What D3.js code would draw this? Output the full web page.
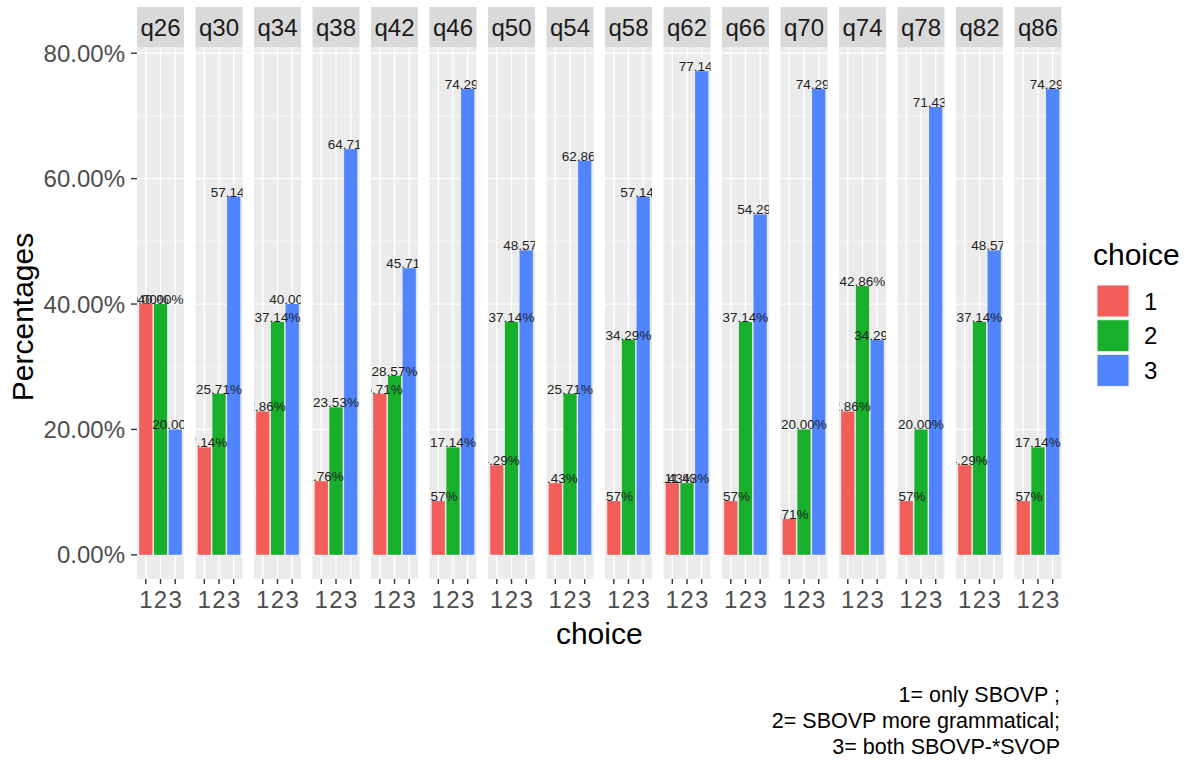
<!DOCTYPE html>
<html>
<head>
<meta charset="utf-8">
<script src="https://cdn.jsdelivr.net/npm/d3@7"></script>
<style>
  body { margin: 0; background: #fff; }
  svg { display: block; font-family: "Liberation Sans", Arial, sans-serif; }
</style>
</head>
<body>
<div id="chart"></div>
<script>
// facet panels and the three answer choices
var questions = ["q26", "q30", "q34", "q38", "q42", "q46", "q50", "q54",
                 "q58", "q62", "q66", "q70", "q74", "q78", "q82", "q86"];
var choices = ["1", "2", "3"];

// percentage per question, one array per choice
var choice1 = [40.00, 17.14, 22.86, 11.76, 25.71, 8.57, 14.29, 11.43,
               8.57, 11.43, 8.57, 5.71, 22.86, 8.57, 14.29, 8.57];
var choice2 = [40.00, 25.71, 37.14, 23.53, 28.57, 17.14, 37.14, 25.71,
               34.29, 11.43, 37.14, 20.00, 42.86, 20.00, 37.14, 17.14];
var choice3 = [20.00, 57.14, 40.00, 64.71, 45.71, 74.29, 48.57, 62.86,
               57.14, 77.14, 54.29, 74.29, 34.29, 71.43, 48.57, 74.29];

var yTicks = [0, 20, 40, 60, 80];
var yMinor = [10, 30, 50, 70];
var colors = ["#F25F5B", "#17AF2C", "#5085FF"];
var captionLines = ["1= only SBOVP ;", "2= SBOVP more grammatical;", "3= both SBOVP-*SVOP"];

var series = [choice1, choice2, choice3];
var rows = [];
questions.forEach(function(q, i) {
  choices.forEach(function(c, j) {
    rows.push({q: q, choice: c, value: series[j][i]});
  });
});

var width = 1190, height = 760;
var panelTop = 47, panelBottom = 579, stripTop = 7;

var svg = d3.select("#chart").append("svg")
  .attr("width", width)
  .attr("height", height);

var fx = d3.scaleBand()
  .domain(questions)
  .range([137, 1061.5])
  .paddingInner(0.196)
  .paddingOuter(0);

var pw = fx.bandwidth();

var x = d3.scalePoint()
  .domain(choices)
  .range([0, pw])
  .padding(0.6);
var barW = x.step() * 0.9;

var maxV = d3.max(rows, function(d) { return d.value; });
var y = d3.scaleLinear()
  .domain([-maxV * 0.05, maxV * 1.05])
  .range([panelBottom, panelTop]);

var fmt = d3.format(".2f");

var panels = svg.selectAll(".panel")
  .data(questions)
  .enter().append("g")
  .attr("class", "panel")
  .attr("transform", function(d) { return "translate(" + fx(d) + ",0)"; });

panels.append("clipPath")
  .attr("id", function(d) { return "clip-" + d; })
  .append("rect")
  .attr("x", 0).attr("y", panelTop)
  .attr("width", pw).attr("height", panelBottom - panelTop);

panels.append("rect")
  .attr("x", 0).attr("y", panelTop)
  .attr("width", pw).attr("height", panelBottom - panelTop)
  .attr("fill", "#EBEBEB");

// minor and major grid
panels.selectAll(".minor")
  .data(yMinor).enter().append("line")
  .attr("x1", 0).attr("x2", pw)
  .attr("y1", function(d) { return y(d); })
  .attr("y2", function(d) { return y(d); })
  .attr("stroke", "#fff").attr("stroke-width", 0.6);

panels.selectAll(".major")
  .data(yTicks).enter().append("line")
  .attr("x1", 0).attr("x2", pw)
  .attr("y1", function(d) { return y(d); })
  .attr("y2", function(d) { return y(d); })
  .attr("stroke", "#fff").attr("stroke-width", 1.3);

panels.selectAll(".vgrid")
  .data(choices).enter().append("line")
  .attr("x1", function(d) { return x(d); })
  .attr("x2", function(d) { return x(d); })
  .attr("y1", panelTop).attr("y2", panelBottom)
  .attr("stroke", "#fff").attr("stroke-width", 1.3);

var inner = panels.append("g")
  .attr("clip-path", function(d) { return "url(#clip-" + d + ")"; });

inner.selectAll(".bar")
  .data(function(q) { return rows.filter(function(r) { return r.q === q; }); })
  .enter().append("rect")
  .attr("x", function(d) { return x(d.choice) - barW / 2; })
  .attr("y", function(d) { return y(d.value); })
  .attr("width", barW)
  .attr("height", function(d) { return y(0) - y(d.value); })
  .attr("fill", function(d) { return colors[choices.indexOf(d.choice)]; });

inner.selectAll(".lab")
  .data(function(q) { return rows.filter(function(r) { return r.q === q; }); })
  .enter().append("text")
  .attr("x", function(d) { return x(d.choice); })
  .attr("y", function(d) { return y(d.value); })
  .attr("text-anchor", "middle")
  .attr("font-size", "13.5px")
  .attr("fill", "#222")
  .text(function(d) { return fmt(d.value) + "%"; });

// strips
panels.append("rect")
  .attr("x", 0).attr("y", stripTop)
  .attr("width", pw).attr("height", panelTop - stripTop)
  .attr("fill", "#D9D9D9");
panels.append("text")
  .attr("x", pw / 2).attr("y", 36)
  .attr("text-anchor", "middle")
  .attr("font-size", "24px")
  .attr("fill", "#1A1A1A")
  .text(function(d) { return d; });

// x ticks + labels under each panel
panels.selectAll(".xt")
  .data(choices).enter().append("line")
  .attr("x1", function(d) { return x(d); })
  .attr("x2", function(d) { return x(d); })
  .attr("y1", panelBottom).attr("y2", panelBottom + 5)
  .attr("stroke", "#333").attr("stroke-width", 1.4);
panels.selectAll(".xl")
  .data(choices).enter().append("text")
  .attr("x", function(d) { return x(d); })
  .attr("y", 608)
  .attr("text-anchor", "middle")
  .attr("font-size", "24px")
  .attr("fill", "#4D4D4D")
  .text(function(d) { return d; });

// y axis
var yAxis = svg.append("g");
yAxis.selectAll("line")
  .data(yTicks).enter().append("line")
  .attr("x1", 131).attr("x2", 137)
  .attr("y1", function(d) { return y(d); })
  .attr("y2", function(d) { return y(d); })
  .attr("stroke", "#333").attr("stroke-width", 1.4);
yAxis.selectAll("text")
  .data(yTicks).enter().append("text")
  .attr("x", 125)
  .attr("y", function(d) { return y(d); })
  .attr("dy", "0.36em")
  .attr("text-anchor", "end")
  .attr("font-size", "24px")
  .attr("fill", "#4D4D4D")
  .text(function(d) { return fmt(d) + "%"; });

// axis titles
svg.append("text")
  .attr("transform", "translate(33," + ((panelTop + panelBottom) / 2 + 4) + ") rotate(-90)")
  .attr("text-anchor", "middle")
  .attr("font-size", "30px")
  .attr("fill", "#000")
  .text("Percentages");

svg.append("text")
  .attr("x", (fx.range()[0] + fx.range()[1]) / 2)
  .attr("y", 644)
  .attr("text-anchor", "middle")
  .attr("font-size", "30px")
  .attr("fill", "#000")
  .text("choice");

// legend
var legend = svg.append("g").attr("transform", "translate(1093,0)");
legend.append("text")
  .attr("x", 0).attr("y", 265)
  .attr("font-size", "30px")
  .attr("fill", "#000")
  .text("choice");
var keys = legend.selectAll(".key")
  .data(choices).enter().append("g")
  .attr("transform", function(d, i) { return "translate(4," + (285 + i * 34.7) + ")"; });
keys.append("rect")
  .attr("width", 32).attr("height", 32)
  .attr("fill", function(d, i) { return colors[i]; })
  .attr("stroke", "#F2F2F2").attr("stroke-width", 1);
keys.append("text")
  .attr("x", 47).attr("y", 16)
  .attr("dy", "0.36em")
  .attr("font-size", "24px")
  .attr("fill", "#000")
  .text(function(d) { return d; });

// caption
svg.append("g").selectAll("text")
  .data(captionLines).enter().append("text")
  .attr("x", 1060)
  .attr("y", function(d, i) { return 702 + i * 25.8; })
  .attr("text-anchor", "end")
  .attr("font-size", "21.5px")
  .attr("fill", "#000")
  .text(function(d) { return d; });
</script>
</body>
</html>
